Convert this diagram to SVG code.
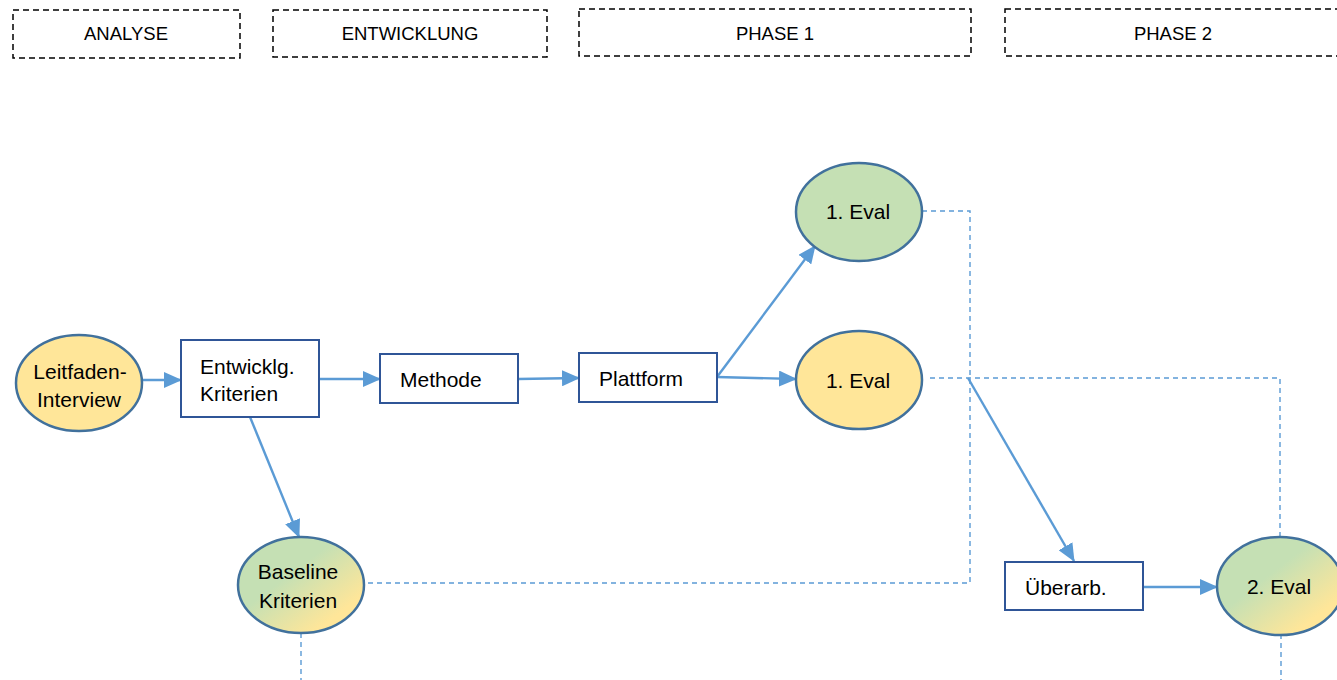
<svg xmlns="http://www.w3.org/2000/svg" width="1337" height="680" viewBox="0 0 1337 680">
<style>
.hdr{fill:none;stroke:#000;stroke-width:1.5;stroke-dasharray:6 4}
.ht{font-family:"Liberation Sans",Arial,sans-serif;font-size:18.5px;fill:#000;text-anchor:middle}
.t{font-family:"Liberation Sans",Arial,sans-serif;font-size:21px;fill:#000}
.c{text-anchor:middle}
.box{fill:#fff;stroke:#2F5597;stroke-width:2}
.ell{stroke:#41719C;stroke-width:2.5}
.arr{fill:none;stroke:#5B9BD5;stroke-width:2.4;marker-end:url(#ah)}
.dash{fill:none;stroke:#5B9BD5;stroke-width:1.4;stroke-dasharray:5 4}
</style>
<defs>
<marker id="ah" markerUnits="userSpaceOnUse" markerWidth="18" markerHeight="16" refX="17" refY="8" orient="auto">
<path d="M0,0 L18,8 L0,16 Z" fill="#5B9BD5"/>
</marker>
<linearGradient id="gy" x1="0" y1="0" x2="1" y2="1">
<stop offset="0.4" stop-color="#C5E0B4"/>
<stop offset="0.8" stop-color="#FFE699"/>
</linearGradient>
</defs>
<rect width="1337" height="680" fill="#fff"/>
<g id="headers">
<g id="h-analyse"><rect class="hdr" x="13" y="10" width="227" height="48"/><text class="ht" x="126" y="40">ANALYSE</text></g>
<g id="h-entwicklung"><rect class="hdr" x="273" y="10" width="274" height="47"/><text class="ht" x="410" y="40">ENTWICKLUNG</text></g>
<g id="h-phase1"><rect class="hdr" x="579" y="9" width="392" height="47"/><text class="ht" x="775" y="40">PHASE 1</text></g>
<g id="h-phase2"><rect class="hdr" x="1005" y="9" width="345" height="47"/><text class="ht" x="1173" y="40">PHASE 2</text></g>
</g>
<g id="connectors">
<path class="dash" d="M922,211 H970 V583 H365"/>
<path class="dash" d="M930,378 H1280 V537"/>
<path class="dash" d="M301,633 V680"/>
<path class="dash" d="M1281,634 V680"/>
<path class="arr" d="M142,380 H181"/>
<path class="arr" d="M319,379 H380"/>
<path class="arr" d="M518,379 L579,378"/>
<path class="arr" d="M717,377 L796,379"/>
<path class="arr" d="M717,377 L815,246"/>
<path class="arr" d="M250,417 L299,537"/>
<path class="arr" d="M968,378 L1074,561"/>
<path class="arr" d="M1143,587 H1217"/>
</g>
<g id="n-leitfaden"><ellipse class="ell" cx="79" cy="383" rx="63" ry="48" fill="#FFE699"/><text class="t c" x="80" y="379">Leitfaden-</text><text class="t c" x="79" y="407">Interview</text></g>
<g id="n-entwicklg"><rect class="box" x="181" y="340" width="138" height="77"/><text class="t" x="200" y="374">Entwicklg.</text><text class="t" x="200" y="401">Kriterien</text></g>
<g id="n-methode"><rect class="box" x="380" y="354" width="138" height="49"/><text class="t" x="400" y="387">Methode</text></g>
<g id="n-plattform"><rect class="box" x="579" y="353" width="138" height="49"/><text class="t" x="599" y="386">Plattform</text></g>
<g id="n-eval1g"><ellipse class="ell" cx="859" cy="212" rx="63" ry="49" fill="#C5E0B4"/><text class="t c" x="858" y="219">1. Eval</text></g>
<g id="n-eval1y"><ellipse class="ell" cx="859" cy="380" rx="63" ry="49" fill="#FFE699"/><text class="t c" x="858" y="388">1. Eval</text></g>
<g id="n-baseline"><ellipse class="ell" cx="301" cy="585" rx="63" ry="48" fill="url(#gy)"/><text class="t c" x="298" y="579">Baseline</text><text class="t c" x="298" y="608">Kriterien</text></g>
<g id="n-ueberarb"><rect class="box" x="1005" y="562" width="138" height="48"/><text class="t" x="1025" y="595">Überarb.</text></g>
<g id="n-eval2"><ellipse class="ell" cx="1280" cy="586" rx="63" ry="49" fill="url(#gy)"/><text class="t c" x="1279" y="594">2. Eval</text></g>
</svg>
